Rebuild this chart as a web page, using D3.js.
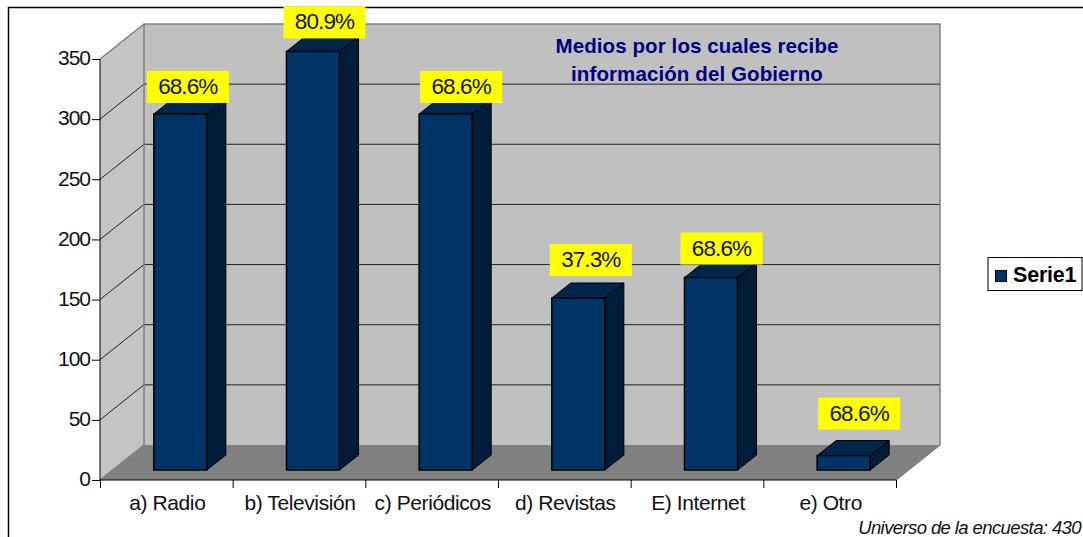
<!DOCTYPE html>
<html>
<head>
<meta charset="utf-8">
<script src="https://d3js.org/d3.v7.min.js"></script>
<style>
  body { margin: 0; background: #fff; }
  svg { display: block; }
  text { font-family: "Liberation Sans", Arial, sans-serif; }
</style>
</head>
<body>
<script>
const categories = ['a) Radio', 'b) Televisión', 'c) Periódicos', 'd) Revistas', 'E) Internet', 'e) Otro'];
const values = [296, 348, 296, 143, 160, 12];
const percentLabels = ['68.6%', '80.9%', '68.6%', '37.3%', '68.6%', '68.6%'];
const yTicks = [0, 50, 100, 150, 200, 250, 300, 350];
const titleLines = ['Medios por los cuales recibe', 'información del Gobierno'];
const seriesName = 'Serie1';
const note = 'Universo de la encuesta: 430';

const width = 1083, height = 537;
const plotLeft = 100, plotRight = 896, plotBottom = 480, plotTop = 59;
// oblique depth of the 3d box, and where the bars sit inside it
const depthX = 44, depthY = 35;
const barOffX = 14, barOffY = 10, barDepthX = 19, barDepthY = 15;

// the yellow labels were moved by hand in the original
const labelShiftX = [-7, -3, 1, -2, -4, 1];
const labelShiftY = [-43, -45, -43, -54, -45, -58];

const svg = d3.select('body').append('svg')
    .attr('width', width)
    .attr('height', height);

const x = d3.scaleBand()
    .domain(categories)
    .range([plotLeft, plotRight])
    .paddingInner(0.6)
    .paddingOuter(0.3);

const y = d3.scaleLinear()
    .domain([0, 350])
    .range([plotBottom, plotTop]);

// outer frame, only top and left are visible
svg.append('path')
    .attr('d', 'M8.5,537V7.5H1083')
    .attr('fill', 'none')
    .attr('stroke', '#000')
    .attr('stroke-width', 1.5);

const poly = pts => 'M' + pts.map(p => p.join(',')).join('L') + 'Z';

// walls and floor
svg.append('path')
    .attr('d', poly([[plotLeft, y(350)], [plotLeft + depthX, y(350) - depthY], [plotLeft + depthX, plotBottom - depthY], [plotLeft, plotBottom]]))
    .attr('fill', '#c4c4c4');
svg.append('path')
    .attr('d', poly([[plotLeft + depthX, y(350) - depthY], [plotRight + depthX, y(350) - depthY], [plotRight + depthX, plotBottom - depthY], [plotLeft + depthX, plotBottom - depthY]]))
    .attr('fill', '#c0c0c0');
svg.append('path')
    .attr('d', poly([[plotLeft, plotBottom], [plotLeft + depthX, plotBottom - depthY], [plotRight + depthX, plotBottom - depthY], [plotRight, plotBottom]]))
    .attr('fill', '#808080');

// gridlines run along the side wall and the back wall
svg.append('g').selectAll('path')
    .data(yTicks.filter(d => d > 0 && d < 350))
    .join('path')
    .attr('d', d => `M${plotLeft},${y(d)}L${plotLeft + depthX},${y(d) - depthY}L${plotRight + depthX},${y(d) - depthY}`)
    .attr('fill', 'none')
    .attr('stroke', '#222')
    .attr('stroke-width', 1);

// wall edges
svg.append('path')
    .attr('d', `M${plotLeft},${y(350)}L${plotLeft + depthX},${y(350) - depthY}H${plotRight + depthX}V${plotBottom - depthY}L${plotRight},${plotBottom}`)
    .attr('fill', 'none')
    .attr('stroke', '#808080')
    .attr('stroke-width', 1.5);
svg.append('path')
    .attr('d', `M${plotLeft + depthX},${y(350) - depthY}V${plotBottom - depthY}L${plotLeft},${plotBottom}`)
    .attr('fill', 'none')
    .attr('stroke', '#808080')
    .attr('stroke-width', 1.5);

// bars
const bars = svg.append('g').selectAll('g')
    .data(values)
    .join('g');

const barX = (d, i) => x(categories[i]) + barOffX;
const barW = x.bandwidth();
const barBase = plotBottom - barOffY;
const barTop = d => barBase - (plotBottom - y(d));

bars.append('path')
    .attr('d', (d, i) => poly([[barX(d, i) + barW, barTop(d)], [barX(d, i) + barW + barDepthX, barTop(d) - barDepthY], [barX(d, i) + barW + barDepthX, barBase - barDepthY], [barX(d, i) + barW, barBase]]))
    .attr('fill', '#001c38')
    .attr('stroke', '#000')
    .attr('stroke-width', 1);
bars.append('path')
    .attr('d', (d, i) => poly([[barX(d, i), barTop(d)], [barX(d, i) + barDepthX, barTop(d) - barDepthY], [barX(d, i) + barW + barDepthX, barTop(d) - barDepthY], [barX(d, i) + barW, barTop(d)]]))
    .attr('fill', '#00264d')
    .attr('stroke', '#000')
    .attr('stroke-width', 1);
bars.append('rect')
    .attr('x', barX)
    .attr('y', barTop)
    .attr('width', barW)
    .attr('height', d => barBase - barTop(d))
    .attr('fill', '#003366')
    .attr('stroke', '#000')
    .attr('stroke-width', 1.5);

// axes
const yAxis = d3.axisLeft(y).tickValues(yTicks).tickSize(8).tickPadding(2);
const gY = svg.append('g')
    .attr('transform', `translate(${plotLeft},0)`)
    .call(yAxis);
gY.selectAll('text').style('font-size', '21px').style('letter-spacing', '-1px').attr('fill', '#111').attr('y', -1);
gY.select('.domain').attr('d', `M0,${plotTop}V${plotBottom}`);

const xAxis = d3.axisBottom(d3.scaleLinear().domain([0, categories.length]).range([plotLeft, plotRight]))
    .ticks(categories.length)
    .tickSize(8)
    .tickFormat('');
const gX = svg.append('g')
    .attr('transform', `translate(0,${plotBottom})`)
    .call(xAxis);
gX.select('.domain').attr('d', `M${plotLeft},0H${plotRight}`);

svg.append('g').selectAll('text')
    .data(categories)
    .join('text')
    .attr('x', d => x(d) + barW / 2 + 1)
    .attr('y', 510)
    .attr('text-anchor', 'middle')
    .attr('fill', '#111')
    .style('font-size', '21px')
    .style('letter-spacing', '-0.4px')
    .text(d => d);

// yellow value labels
const labels = svg.append('g').selectAll('g')
    .data(values)
    .join('g')
    .attr('transform', (d, i) => `translate(${barX(d, i) + labelShiftX[i]},${barTop(d) + labelShiftY[i]})`);
labels.append('rect')
    .attr('width', 82)
    .attr('height', 32)
    .attr('fill', '#ffff00');
labels.append('text')
    .attr('x', 41)
    .attr('y', 23)
    .attr('text-anchor', 'middle')
    .attr('fill', '#111')
    .style('font-size', '22.5px')
    .style('letter-spacing', '-0.9px')
    .text((d, i) => percentLabels[i]);

// title
svg.append('g').selectAll('text')
    .data(titleLines)
    .join('text')
    .attr('x', 697)
    .attr('y', (d, i) => 53 + i * 28)
    .attr('text-anchor', 'middle')
    .attr('fill', '#000080')
    .style('font-size', '20.5px')
    .style('font-weight', 'bold')
    .style('letter-spacing', '0.1px')
    .text(d => d);

// legend
svg.append('rect')
    .attr('x', 988)
    .attr('y', 257.5)
    .attr('width', 94)
    .attr('height', 33)
    .attr('fill', '#fff')
    .attr('stroke', '#000');
svg.append('rect')
    .attr('x', 995.5)
    .attr('y', 270.5)
    .attr('width', 11)
    .attr('height', 11)
    .attr('fill', '#003366')
    .attr('stroke', '#000');
svg.append('text')
    .attr('x', 1013)
    .attr('y', 282)
    .attr('fill', '#000')
    .style('font-size', '21.5px')
    .style('font-weight', 'bold')
    .style('letter-spacing', '-0.2px')
    .text(seriesName);

// sample note
svg.append('text')
    .attr('x', 1081)
    .attr('y', 534)
    .attr('text-anchor', 'end')
    .attr('fill', '#111')
    .style('font-size', '18.5px')
    .style('font-style', 'italic')
    .style('letter-spacing', '-0.6px')
    .text(note);
</script>
</body>
</html>
